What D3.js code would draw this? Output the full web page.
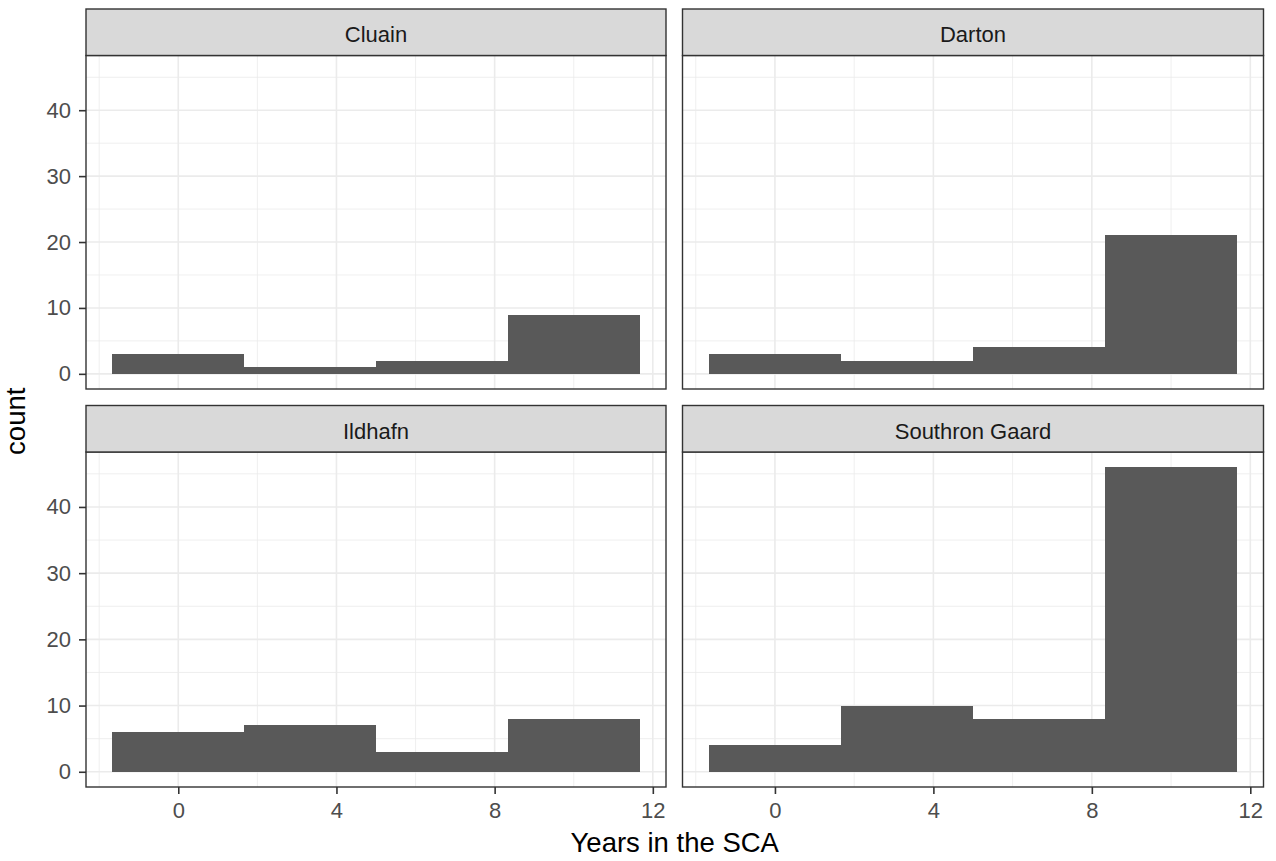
<!DOCTYPE html>
<html>
<head>
<meta charset="utf-8">
<script src="https://cdn.jsdelivr.net/npm/d3@7"></script>
<style>
  html, body { margin: 0; padding: 0; background: #ffffff; }
  svg { display: block; font-family: "Liberation Sans", Arial, Helvetica, sans-serif; }
</style>
</head>
<body>
<svg id="chart" width="1276" height="861"></svg>
<script>
// ---- data ----
const facets = ["Cluain", "Darton", "Ildhafn", "Southron Gaard"];
const binEdges = [-5/3, 5/3, 5, 25/3, 35/3];   // histogram bin boundaries (years)
const countsCluain = [3, 1, 2, 9];
const countsDarton = [3, 2, 4, 21];
const countsIldhafn = [6, 7, 3, 8];
const countsSouthronGaard = [4, 10, 8, 46];
const xTicks = [0, 4, 8, 12];
const xMinor = [-2, 2, 6, 10];
const yTicks = [0, 10, 20, 30, 40];
const yMinor = [5, 15, 25, 35, 45];
const xTitle = "Years in the SCA";
const yTitle = "count";

const countsByFacet = [countsCluain, countsDarton, countsIldhafn, countsSouthronGaard];

// ---- layout ----
const cols = [{x0: 86, x1: 666}, {x0: 682.5, x1: 1263.5}];
const rows = [{stripTop: 9, y0: 55.5, y1: 389}, {stripTop: 405.5, y0: 452, y1: 787}];

const svg = d3.select("#chart");

const xMinD = d3.min(binEdges), xMaxD = d3.max(binEdges);
const xPad = (xMaxD - xMinD) * 0.05;
const yMaxD = d3.max(countsByFacet.flat());
const yPad = yMaxD * 0.05;

const tickFont = 22, titleFont = 27.5;

facets.forEach((name, i) => {
  const c = cols[i % 2], r = rows[Math.floor(i / 2)];
  const x = d3.scaleLinear().domain([xMinD - xPad, xMaxD + xPad]).range([c.x0, c.x1]);
  const y = d3.scaleLinear().domain([-yPad, yMaxD + yPad]).range([r.y1, r.y0]);
  const g = svg.append("g");

  // panel background
  g.append("rect").attr("x", c.x0).attr("y", r.y0)
    .attr("width", c.x1 - c.x0).attr("height", r.y1 - r.y0).attr("fill", "#ffffff");

  // minor grid
  g.selectAll(".xmin").data(xMinor).join("line")
    .attr("x1", d => x(d)).attr("x2", d => x(d)).attr("y1", r.y0).attr("y2", r.y1)
    .attr("stroke", "#EBEBEB").attr("stroke-width", 0.8);
  g.selectAll(".ymin").data(yMinor).join("line")
    .attr("y1", d => y(d)).attr("y2", d => y(d)).attr("x1", c.x0).attr("x2", c.x1)
    .attr("stroke", "#EBEBEB").attr("stroke-width", 0.8);
  // major grid
  g.selectAll(".xmaj").data(xTicks).join("line")
    .attr("x1", d => x(d)).attr("x2", d => x(d)).attr("y1", r.y0).attr("y2", r.y1)
    .attr("stroke", "#EBEBEB").attr("stroke-width", 1.6);
  g.selectAll(".ymaj").data(yTicks).join("line")
    .attr("y1", d => y(d)).attr("y2", d => y(d)).attr("x1", c.x0).attr("x2", c.x1)
    .attr("stroke", "#EBEBEB").attr("stroke-width", 1.6);

  // bars
  const bins = countsByFacet[i].map((v, k) => ({x0: binEdges[k], x1: binEdges[k + 1], v}));
  g.selectAll(".bar").data(bins).join("rect")
    .attr("x", d => x(d.x0)).attr("width", d => x(d.x1) - x(d.x0))
    .attr("y", d => y(d.v)).attr("height", d => y(0) - y(d.v))
    .attr("fill", "#595959").attr("shape-rendering", "crispEdges");

  // panel border
  g.append("rect").attr("x", c.x0).attr("y", r.y0)
    .attr("width", c.x1 - c.x0).attr("height", r.y1 - r.y0)
    .attr("fill", "none").attr("stroke", "#333333").attr("stroke-width", 1.4);

  // strip
  g.append("rect").attr("x", c.x0).attr("y", r.stripTop)
    .attr("width", c.x1 - c.x0).attr("height", r.y0 - r.stripTop)
    .attr("fill", "#D9D9D9").attr("stroke", "#333333").attr("stroke-width", 1.4);
  g.append("text").attr("x", (c.x0 + c.x1) / 2).attr("y", r.stripTop + 33)
    .attr("text-anchor", "middle").attr("font-size", tickFont).attr("fill", "#1A1A1A")
    .text(name);

  // x axis on bottom row
  if (Math.floor(i / 2) === 1) {
    const ax = g.append("g").attr("transform", `translate(0,${r.y1})`)
      .call(d3.axisBottom(x).tickValues(xTicks).tickSize(7).tickPadding(8).tickFormat(d3.format("d")));
    ax.select(".domain").remove();
    ax.selectAll(".tick line").attr("stroke", "#333333").attr("stroke-width", 1.6);
    ax.selectAll(".tick text").attr("font-size", tickFont).attr("fill", "#4D4D4D")
      .attr("font-family", "Liberation Sans, Arial, sans-serif");
  }
  // y axis on left column
  if (i % 2 === 0) {
    const ay = g.append("g").attr("transform", `translate(${c.x0},0)`)
      .call(d3.axisLeft(y).tickValues(yTicks).tickSize(7).tickPadding(8).tickFormat(d3.format("d")));
    ay.select(".domain").remove();
    ay.selectAll(".tick line").attr("stroke", "#333333").attr("stroke-width", 1.6);
    ay.selectAll(".tick text").attr("font-size", tickFont).attr("fill", "#4D4D4D")
      .attr("font-family", "Liberation Sans, Arial, sans-serif");
  }
});

// axis titles
svg.append("text").attr("x", (cols[0].x0 + cols[1].x1) / 2).attr("y", 852)
  .attr("text-anchor", "middle").attr("font-size", titleFont).attr("fill", "#000000")
  .text(xTitle);
svg.append("text")
  .attr("transform", `translate(25,${(rows[0].y0 + rows[1].y1) / 2}) rotate(-90)`)
  .attr("text-anchor", "middle").attr("font-size", titleFont).attr("fill", "#000000")
  .text(yTitle);
</script>
</body>
</html>
